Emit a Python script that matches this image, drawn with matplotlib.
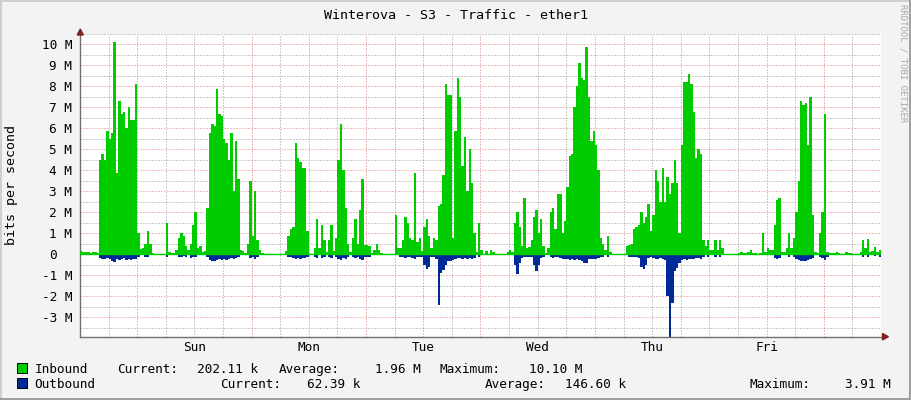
import numpy as np
import matplotlib.pyplot as plt
from matplotlib import transforms
from matplotlib.patches import Rectangle, Polygon

# 30-minute samples, starting Saturday 12:00, values in Mbit/s
inbound = [
    0.15, 0.1, 0.12, 0.1, 0.08, 0.1, 0.1, 0.05, 4.5, 4.8, 4.5, 5.9,
    5.5, 5.8, 10.1, 3.9, 7.3, 6.7, 6.8, 6.0, 7.0, 6.4, 6.4, 8.1,
    1.0, 0.25, 0.3, 0.5, 1.1, 0.5, 0.05, 0.02, 0.02, 0.02, 0.02, 0.02,
    1.5, 0.1, 0.05, 0.05, 0.2, 0.8, 1.0, 0.9, 0.4, 0.2, 0.5, 1.4,
    2.0, 0.3, 0.4, 0.1, 0.15, 2.2, 5.8, 6.2, 6.1, 7.9, 6.7, 6.6,
    5.5, 5.3, 4.5, 5.8, 3.0, 5.4, 3.6, 0.2, 0.15, 0.05, 0.5, 3.5,
    0.9, 3.0, 0.7, 0.2, 0.05, 0.0, 0.0, 0.0, 0.0, 0.0, 0.0, 0.0,
    0.0, 0.0, 0.15, 0.9, 1.2, 1.3, 5.3, 4.6, 4.4, 4.1, 4.1, 1.1,
    0.02, 0.02, 0.3, 1.7, 0.3, 1.4, 0.7, 0.1, 0.7, 1.4, 0.15, 0.8,
    4.5, 6.2, 4.0, 2.2, 0.5, 0.1, 0.8, 1.7, 0.5, 2.1, 3.6, 0.45,
    0.45, 0.4, 0.05, 0.2, 0.5, 0.2, 0.05, 0.0, 0.0, 0.0, 0.0, 0.0,
    1.9, 0.3, 0.3, 0.7, 1.8, 1.5, 0.8, 0.7, 3.9, 0.6, 0.8, 0.15,
    1.3, 1.7, 0.9, 0.3, 0.8, 0.7, 2.3, 2.4, 3.8, 8.1, 7.6, 7.6,
    0.8, 5.9, 8.4, 7.5, 4.2, 5.6, 3.0, 5.0, 3.4, 1.0, 0.1, 1.5,
    0.2, 0.02, 0.15, 0.02, 0.2, 0.1, 0.0, 0.0, 0.0, 0.0, 0.02, 0.1,
    0.2, 0.1, 1.5, 2.0, 1.3, 0.4, 2.7, 0.3, 0.35, 0.7, 1.8, 2.1,
    1.0, 1.7, 0.4, 0.05, 0.3, 2.0, 2.2, 1.2, 2.9, 2.9, 1.0, 1.6,
    3.2, 4.7, 4.8, 7.0, 8.0, 9.1, 8.4, 8.3, 9.9, 7.5, 5.4, 5.9,
    5.2, 4.0, 0.8, 0.5, 0.2, 0.9, 0.1, 0.0, 0.0, 0.0, 0.0, 0.0,
    0.02, 0.4, 0.45, 0.5, 1.2, 1.3, 1.4, 2.0, 1.5, 1.8, 2.4, 1.1,
    1.9, 4.0, 3.5, 2.5, 4.1, 2.5, 3.7, 2.9, 3.4, 4.5, 3.4, 1.0,
    5.2, 8.2, 8.2, 8.6, 8.1, 6.8, 4.6, 5.0, 4.8, 0.7, 0.4, 0.7,
    0.2, 0.2, 0.7, 0.2, 0.7, 0.3, 0.02, 0.02, 0.02, 0.02, 0.02, 0.02,
    0.05, 0.12, 0.05, 0.05, 0.1, 0.2, 0.05, 0.08, 0.02, 0.05, 1.0, 0.1,
    0.3, 0.2, 0.2, 1.4, 2.6, 2.7, 0.1, 0.1, 0.3, 1.0, 0.3, 0.8,
    2.0, 3.5, 7.3, 7.1, 7.2, 5.2, 7.5, 1.9, 0.1, 0.05, 1.0, 2.0,
    6.7, 0.1, 0.05, 0.05, 0.05, 0.12, 0.05, 0.02, 0.02, 0.1, 0.05, 0.07,
    0.02, 0.02, 0.02, 0.1, 0.7, 0.3, 0.75, 0.1, 0.15, 0.35, 0.1, 0.2,
]

outbound = [
    0.02, 0.05, 0.03, 0.05, 0.02, 0.05, 0.03, 0.02, 0.15, 0.2, 0.2, 0.15,
    0.2, 0.3, 0.35, 0.2, 0.25, 0.2, 0.15, 0.25, 0.2, 0.25, 0.2, 0.2,
    0.1, 0.02, 0.05, 0.1, 0.1, 0.05, 0.0, 0.0, 0.0, 0.0, 0.0, 0.0,
    0.1, 0.02, 0.0, 0.0, 0.05, 0.1, 0.1, 0.08, 0.1, 0.05, 0.15, 0.1,
    0.1, 0.05, 0.05, 0.02, 0.02, 0.1, 0.25, 0.3, 0.3, 0.25, 0.2, 0.25,
    0.2, 0.25, 0.2, 0.15, 0.2, 0.15, 0.1, 0.05, 0.05, 0.02, 0.05, 0.15,
    0.1, 0.2, 0.1, 0.05, 0.02, 0.0, 0.0, 0.0, 0.0, 0.0, 0.0, 0.0,
    0.0, 0.0, 0.05, 0.1, 0.1, 0.15, 0.2, 0.15, 0.2, 0.15, 0.15, 0.1,
    0.0, 0.0, 0.1, 0.15, 0.05, 0.15, 0.1, 0.02, 0.1, 0.15, 0.05, 0.1,
    0.2, 0.25, 0.15, 0.2, 0.1, 0.02, 0.1, 0.15, 0.1, 0.2, 0.25, 0.1,
    0.1, 0.1, 0.02, 0.02, 0.05, 0.02, 0.0, 0.0, 0.0, 0.0, 0.0, 0.0,
    0.05, 0.05, 0.1, 0.1, 0.15, 0.1, 0.1, 0.15, 0.2, 0.1, 0.1, 0.1,
    0.5, 0.7, 0.6, 0.1, 0.1, 0.2, 2.4, 0.9, 0.75, 0.5, 0.3, 0.3,
    0.25, 0.2, 0.15, 0.15, 0.2, 0.15, 0.2, 0.15, 0.2, 0.15, 0.05, 0.1,
    0.05, 0.02, 0.02, 0.0, 0.02, 0.02, 0.0, 0.0, 0.0, 0.0, 0.0, 0.02,
    0.05, 0.05, 0.5, 0.95, 0.4, 0.15, 0.1, 0.1, 0.1, 0.1, 0.5, 0.8,
    0.5, 0.15, 0.1, 0.05, 0.05, 0.1, 0.15, 0.1, 0.1, 0.15, 0.2, 0.2,
    0.2, 0.25, 0.2, 0.25, 0.2, 0.25, 0.3, 0.4, 0.4, 0.2, 0.2, 0.2,
    0.2, 0.15, 0.1, 0.1, 0.05, 0.1, 0.02, 0.0, 0.0, 0.0, 0.0, 0.0,
    0.0, 0.05, 0.1, 0.1, 0.1, 0.1, 0.15, 0.6, 0.7, 0.5, 0.15, 0.1,
    0.15, 0.2, 0.2, 0.15, 0.2, 0.25, 2.0, 3.91, 2.3, 0.8, 0.65, 0.4,
    0.25, 0.2, 0.25, 0.2, 0.2, 0.2, 0.15, 0.15, 0.2, 0.1, 0.05, 0.1,
    0.05, 0.05, 0.1, 0.05, 0.12, 0.05, 0.0, 0.0, 0.0, 0.0, 0.0, 0.0,
    0.02, 0.05, 0.02, 0.02, 0.05, 0.05, 0.02, 0.02, 0.0, 0.0, 0.05, 0.02,
    0.05, 0.05, 0.05, 0.15, 0.2, 0.15, 0.05, 0.02, 0.05, 0.1, 0.05, 0.1,
    0.2, 0.25, 0.3, 0.3, 0.3, 0.25, 0.2, 0.15, 0.02, 0.02, 0.1, 0.15,
    0.25, 0.1, 0.02, 0.02, 0.02, 0.05, 0.02, 0.0, 0.0, 0.02, 0.02, 0.02,
    0.0, 0.0, 0.0, 0.05, 0.1, 0.05, 0.1, 0.02, 0.05, 0.08, 0.05, 0.1,
]

days = ['Sun', 'Mon', 'Tue', 'Wed', 'Thu', 'Fri']
ytick_vals = [10, 9, 8, 7, 6, 5, 4, 3, 2, 1, 0, -1, -2, -3]
ytick_labels = ['10 M', '9 M', '8 M', '7 M', '6 M', '5 M', '4 M', '3 M',
                '2 M', '1 M', '0', '-1 M', '-2 M', '-3 M']

legend_in = [('Current:', 116.7), ('202.11 k', 196.7), ('Average:', 279),
             ('1.96 M', 375), ('Maximum:', 440), ('10.10 M', 529)]
legend_out = [('Current:', 220), ('62.39 k', 306.7), ('Average:', 485),
              ('146.60 k', 565), ('Maximum:', 749.3), ('3.91 M', 845)]

GREEN = '#00cc00'
BLUE = '#002a97'
MONO = 'DejaVu Sans Mono'
FS = 9.2

W, H = 911, 400
fig = plt.figure(figsize=(W / 100, H / 100), dpi=100, facecolor='#f3f3f3')


def fx(x):
    return x / W


def fy(y):
    return 1 - y / H


ax = fig.add_axes([fx(80), fy(336.7), 801 / W, (336.7 - 34) / H])
ax.set_facecolor('white')

edges = np.arange(len(inbound) + 1) * 0.5
ax.stairs(-np.array(outbound), edges, fill=True, color=BLUE, lw=0, zorder=2)
ax.stairs(inbound, edges, fill=True, color=GREEN, lw=0, zorder=3)
ax.axhline(0, color=GREEN, lw=1.0, zorder=4)

ax.set_xlim(0, 168)
ax.set_ylim(-3.918, 10.2)

# grid: red at midnight / every 1M, grey every 6h / 0.5M
ax.set_xticks(np.arange(12, 168, 24))
ax.set_xticks(np.arange(0, 169, 6), minor=True)
ax.set_yticks(np.arange(-3, 11, 1))
ax.set_yticks(np.arange(-3.5, 10.6, 0.5), minor=True)
ax.tick_params(which='both', length=0, labelbottom=False, labelleft=False)
ax.grid(which='major', color='#e07a7a', lw=0.72, linestyle=(0, (1, 2)))
ax.grid(which='minor', color='#999999', lw=0.72, linestyle=(0, (1, 2)))
ax.set_axisbelow(True)

for side in ['top', 'right']:
    ax.spines[side].set_visible(False)
for side in ['left', 'bottom']:
    ax.spines[side].set_color('#707070')
    ax.spines[side].set_linewidth(1.0)

# arrows
fig.patches.append(Polygon([(fx(77.3), fy(35)), (fx(83.3), fy(35)), (fx(80.3), fy(29))],
                           closed=True, color='#801f1f', transform=fig.transFigure))
fig.patches.append(Polygon([(fx(882.5), fy(333.5)), (fx(882.5), fy(339.9)), (fx(888.5), fy(336.7))],
                           closed=True, color='#801f1f', transform=fig.transFigure))

# y labels
ytrans = transforms.blended_transform_factory(ax.transAxes, ax.transData) + \
    transforms.ScaledTranslation(0, -0.046, fig.dpi_scale_trans)
cw = 7.73 / 801
for v, lab in zip(ytick_vals, ytick_labels):
    xr = (72.3 - 80) / 801
    if 'M' not in lab:
        xr -= 2 * cw
    ax.text(xr, v, lab, transform=ytrans, ha='right', va='baseline',
            family=MONO, fontsize=FS, color='black')

# day labels at noon
xtrans = transforms.blended_transform_factory(ax.transData, ax.transAxes) + \
    transforms.ScaledTranslation(0, -0.14, fig.dpi_scale_trans)
for k, d in enumerate(days):
    ax.text(24 + 24 * k, 0, d, transform=xtrans, ha='center', va='baseline',
            family=MONO, fontsize=FS)

fig.text(0.5, fy(18.7), 'Winterova - S3 - Traffic - ether1', ha='center',
         va='baseline', family=MONO, fontsize=9.6)
fig.text(fx(12), fy(185), 'bits per second', rotation=90, ha='center',
         va='center', family=MONO, fontsize=9.6)
fig.text(fx(903), fy(4), 'RRDTOOL / TOBI OETIKER', rotation=270, ha='center',
         va='top', family=MONO, fontsize=6.5, color='#a8a8a8')

# legend
for yb, name, col, items in [(372.7, 'Inbound', GREEN, legend_in),
                             (388.3, 'Outbound', BLUE, legend_out)]:
    fig.patches.append(Rectangle((fx(17.3), fy(yb)), 10 / W, 10 / H,
                                 facecolor=col, edgecolor='black', lw=0.7,
                                 transform=fig.transFigure))
    fig.text(fx(34.3), fy(yb), name, va='baseline', family=MONO, fontsize=FS)
    for txt, x in items:
        fig.text(fx(x), fy(yb), txt, va='baseline', family=MONO, fontsize=FS)

# 3d border
fig.add_artist(plt.Line2D([0, 1], [fy(0.5)] * 2, color='#cfcfcf', lw=1.4, transform=fig.transFigure))
fig.add_artist(plt.Line2D([fx(0.5)] * 2, [0, 1], color='#cfcfcf', lw=1.4, transform=fig.transFigure))
fig.add_artist(plt.Line2D([0, 1], [fy(399)] * 2, color='#9e9e9e', lw=1.4, transform=fig.transFigure))
fig.add_artist(plt.Line2D([fx(910)] * 2, [0, 1], color='#9e9e9e', lw=1.4, transform=fig.transFigure))

fig.savefig('out.png', dpi=100, facecolor=fig.get_facecolor())
